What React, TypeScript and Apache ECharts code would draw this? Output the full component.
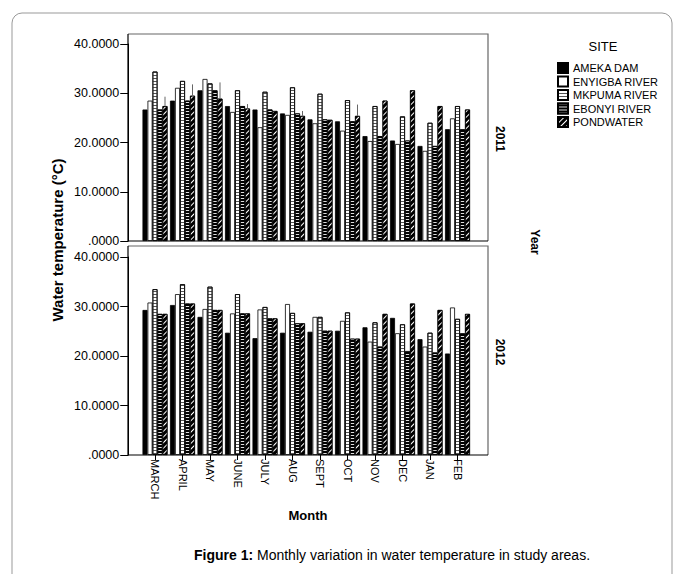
import React, { useEffect, useRef } from "react";
import * as echarts from "echarts";

const months = ["MARCH", "APRIL", "MAY", "JUNE", "JULY", "AUG", "SEPT", "OCT", "NOV", "DEC", "JAN", "FEB"];
const sites = ["AMEKA DAM", "ENYIGBA RIVER", "MKPUMA RIVER", "EBONYI RIVER", "PONDWATER"];
const yearLabels = ["2011", "2012"];

const ameka2011 = [26.7, 28.5, 30.6, 27.4, 26.7, 25.9, 24.7, 24.3, 21.3, 20.4, 19.3, 22.7];
const enyigba2011 = [28.5, 31.1, 32.9, 26.2, 23.1, 25.6, 23.9, 22.4, 20.3, 19.7, 18.3, 24.9];
const mkpuma2011 = [34.4, 32.5, 32.0, 30.6, 30.3, 31.2, 29.9, 28.6, 27.4, 25.3, 24.0, 27.4];
const ebonyi2011 = [26.7, 28.5, 30.6, 27.4, 26.7, 25.9, 24.7, 24.3, 21.3, 20.4, 19.3, 22.7];
const pond2011 = [27.4, 29.5, 28.9, 26.9, 26.4, 25.4, 24.6, 25.4, 28.5, 30.6, 27.4, 26.7];
const pondUpper2011 = [29.3, 31.8, 32.2, 27.8, null, 26.4, null, 27.7, null, null, null, null];

const ameka2012 = [29.3, 30.3, 27.9, 24.7, 23.6, 24.7, 24.9, 25.1, 25.8, 27.7, 23.4, 20.5];
const enyigba2012 = [30.8, 32.5, 29.5, 28.6, 29.4, 30.5, 27.9, 27.1, 22.9, 24.6, 21.9, 29.8];
const mkpuma2012 = [33.5, 34.5, 34.0, 32.5, 29.9, 28.7, 27.9, 28.8, 26.8, 26.4, 24.7, 27.5];
const ebonyi2012 = [28.5, 30.6, 29.3, 28.6, 27.6, 26.6, 25.1, 23.5, 21.9, 21.0, 20.7, 24.6];
const pond2012 = [28.5, 30.6, 29.3, 28.6, 27.6, 26.6, 25.1, 23.5, 28.5, 30.6, 29.3, 28.5];

const yTicks = [0, 10, 20, 30, 40];

const FONT = "Liberation Sans, Arial, sans-serif";
const BAR_W = 5;

const siteStyles: any[] = [
  { color: "#000", borderColor: "#000", borderWidth: 0.8 },
  { color: "#fff", borderColor: "#000", borderWidth: 0.8 },
  {
    color: "#fff",
    borderColor: "#000",
    borderWidth: 0.8,
    decal: { symbol: "rect", symbolSize: 1, color: "#555", dashArrayX: [1, 0], dashArrayY: [1, 2], rotation: 0 },
  },
  {
    color: "#000",
    borderColor: "#000",
    borderWidth: 0.8,
    decal: { symbol: "rect", symbolSize: 1, color: "#ddd", dashArrayX: [1, 0], dashArrayY: [1, 2], rotation: 0 },
  },
  {
    color: "#000",
    borderColor: "#000",
    borderWidth: 0.8,
    decal: { symbol: "rect", symbolSize: 1, color: "#fff", dashArrayX: [1, 0], dashArrayY: [1, 3], rotation: -Math.PI / 4 },
  },
];

export default function App() {
  const ref = useRef<HTMLDivElement>(null);
  useEffect(() => {
    document.body.style.margin = "0";
    const chart = echarts.init(ref.current!, undefined, { renderer: "svg" });
    const data2011 = [ameka2011, enyigba2011, mkpuma2011, ebonyi2011, pond2011];
    const data2012 = [ameka2012, enyigba2012, mkpuma2012, ebonyi2012, pond2012];

    const panels = [
      { top: 44, height: 197 },
      { top: 257, height: 198 },
    ];
    const gridLeft = 141.25;
    const gridWidth = 330;

    const barSeries: any[] = [];
    [data2011, data2012].forEach((yearData, gi) => {
      yearData.forEach((vals, si) => {
        barSeries.push({
          type: "bar",
          name: sites[si],
          xAxisIndex: gi,
          yAxisIndex: gi,
          data: vals,
          barWidth: BAR_W,
          barGap: "0%",
          itemStyle: siteStyles[si],
          emphasis: { disabled: true },
        });
      });
    });

    const errSeries = {
      type: "custom",
      xAxisIndex: 0,
      yAxisIndex: 0,
      z: 5,
      silent: true,
      data: months
        .map((_, i) => [i, pond2011[i], pondUpper2011[i]])
        .filter((d) => d[2] != null),
      renderItem: (params: any, api: any) => {
        const top = api.coord([api.value(0), api.value(2)]);
        const base = api.coord([api.value(0), api.value(1)]);
        const x = top[0] + BAR_W * 2;
        return {
          type: "line",
          shape: { x1: x, y1: top[1], x2: x, y2: base[1] },
          style: { stroke: "#666", lineWidth: 1 },
        };
      },
    };

    const frame: any[] = [];
    const frames = [
      { t: 34, b: 241 },
      { t: 246, b: 455 },
    ];
    frames.forEach((f) => {
      frame.push({
        type: "polyline",
        shape: { points: [[128, f.t], [488, f.t], [488, f.b]] },
        style: { fill: "none", stroke: "#666", lineWidth: 1.2 },
        z: 10,
      });
      frame.push({
        type: "polyline",
        shape: { points: [[128, f.t], [128, f.b], [488, f.b]] },
        style: { fill: "none", stroke: "#000", lineWidth: 1.2 },
        z: 10,
      });
    });

    const option: any = {
      animation: false,
      backgroundColor: "#fff",
      textStyle: { fontFamily: FONT },
      grid: panels.map((p) => ({ left: gridLeft, width: gridWidth, top: p.top, height: p.height })),
      xAxis: [0, 1].map((gi) => ({
        type: "category",
        gridIndex: gi,
        data: months,
        axisLine: { show: false },
        axisTick: gi === 1 ? { show: true, alignWithLabel: true, length: 5, lineStyle: { color: "#000" } } : { show: false },
        axisLabel:
          gi === 1
            ? { show: true, rotate: -90, fontSize: 11, color: "#000", margin: 4, fontFamily: FONT, interval: 0 }
            : { show: false },
        splitLine: { show: false },
      })),
      yAxis: [0, 1].map((gi) => ({
        type: "value",
        gridIndex: gi,
        min: yTicks[0],
        max: yTicks[yTicks.length - 1],
        interval: 10,
        offset: 13,
        axisLine: { show: true, lineStyle: { color: "#000" } },
        axisTick: { show: true, length: 8, lineStyle: { color: "#000" } },
        axisLabel: {
          fontSize: 12.5,
          color: "#000",
          margin: 9,
          fontFamily: FONT,
          formatter: (v: number) => (v === 0 ? ".0000" : v.toFixed(4)),
        },
        splitLine: { show: false },
      })),
      legend: {
        data: sites,
        orient: "vertical",
        left: 552,
        top: 57,
        itemWidth: 10,
        itemHeight: 10,
        itemGap: 1.5,
        icon: "rect",
        selectedMode: false,
        textStyle: { fontSize: 11, lineHeight: 12, color: "#000", fontFamily: FONT },
      },
      graphic: [
        {
          type: "rect",
          shape: { x: 12, y: 13, width: 660, height: 640, r: 10 },
          style: { fill: "none", stroke: "#999", lineWidth: 1 },
          z: 0,
        },
        ...frame,
        {
          type: "text",
          x: 603,
          y: 46,
          style: { text: "SITE", fontSize: 13, fill: "#000", fontFamily: FONT, align: "center", verticalAlign: "middle" },
        },
        {
          type: "text",
          x: 57,
          y: 240,
          rotation: Math.PI / 2,
          style: {
            text: "Water temperature (°C)",
            fontSize: 15,
            fontWeight: "bold",
            fill: "#000",
            fontFamily: FONT,
            align: "center",
            verticalAlign: "middle",
          },
        },
        {
          type: "text",
          x: 500,
          y: 139,
          rotation: -Math.PI / 2,
          style: { text: yearLabels[0], fontSize: 12, fontWeight: "bold", fill: "#000", fontFamily: FONT, align: "center", verticalAlign: "middle" },
        },
        {
          type: "text",
          x: 500,
          y: 352,
          rotation: -Math.PI / 2,
          style: { text: yearLabels[1], fontSize: 12, fontWeight: "bold", fill: "#000", fontFamily: FONT, align: "center", verticalAlign: "middle" },
        },
        {
          type: "text",
          x: 535,
          y: 242,
          rotation: -Math.PI / 2,
          style: { text: "Year", fontSize: 12, fontWeight: "bold", fill: "#000", fontFamily: FONT, align: "center", verticalAlign: "middle" },
        },
        {
          type: "text",
          x: 308,
          y: 515,
          style: { text: "Month", fontSize: 13, fontWeight: "bold", fill: "#000", fontFamily: FONT, align: "center", verticalAlign: "middle" },
        },
        {
          type: "text",
          x: 392,
          y: 555,
          style: {
            text: "{b|Figure 1:} Monthly variation in water temperature in study areas.",
            rich: { b: { fontWeight: "bold", fontSize: 14, fontFamily: FONT, fill: "#000" } },
            fontSize: 14,
            fill: "#000",
            fontFamily: FONT,
            align: "center",
            verticalAlign: "middle",
          },
        },
      ],
      series: [...barSeries, errSeries],
    };
    chart.setOption(option);
    return () => chart.dispose();
  }, []);
  return <div ref={ref} style={{ width: 683, height: 574 }} />;
}
